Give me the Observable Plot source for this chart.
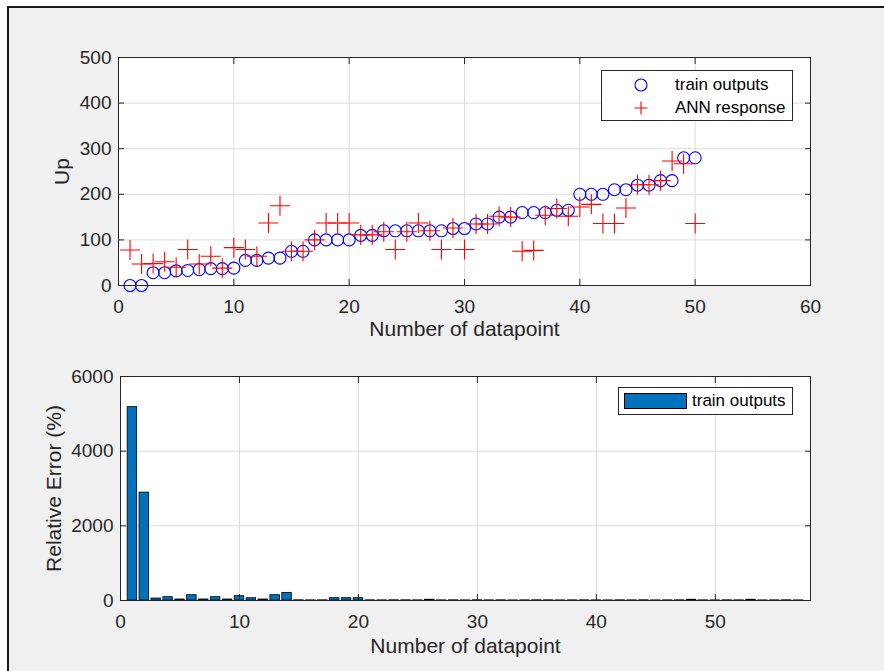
<!DOCTYPE html>
<html>
<head>
<meta charset="utf-8">
<script src="https://cdn.jsdelivr.net/npm/d3@7"></script>
<script src="https://cdn.jsdelivr.net/npm/@observablehq/plot@0.6"></script>
<style>
  html, body { margin: 0; padding: 0; background: #ffffff; width: 884px; height: 671px; overflow: hidden; }
  #fig { position: absolute; left: 7px; top: 6px; width: 900px; height: 700px; background: #f0f0f0; border-left: 2px solid #1a1a1a; border-top: 2px solid #1a1a1a; }
  .legend { position: absolute; background: #fff; border: 1px solid #262626; font-family: "Liberation Sans", Arial, sans-serif; font-size: 17px; color: #000; box-sizing: border-box; }
  .legend .row { position: absolute; display: flex; align-items: center; }
  svg text { font-family: "Liberation Sans", Arial, sans-serif; }
</style>
</head>
<body>
<div id="fig"></div>
<script>
// ---------- data ----------
const indexTop = d3.range(1, 51);
const trainOutputs = [0, 0, 28, 28, 32, 33, 35, 37, 37, 38,
  55, 55, 60, 60, 75, 75, 100, 100, 100, 100,
  110, 110, 120, 120, 120, 120, 120, 120, 125, 125,
  135, 135, 150, 150, 160, 160, 160, 165, 165, 200,
  200, 200, 210, 210, 220, 220, 230, 230, 280, 280];
const annResponse = [78, 47, 48, 52, 40, 79, 47, 64, 38, 83,
  79, 64, 137, 175, 75, 75, 100, 137, 137, 137,
  111, 111, 118, 79, 118, 137, 120, 79, 126, 79,
  135, 135, 152, 150, 75, 77, 154, 169, 152, 172,
  178, 136, 136, 170, 221, 221, 230, 273, 267, 136];

const indexBottom = d3.range(1, 58);
const relativeError = [5180, 2890, 53, 89, 27, 142, 27, 89, 27, 116,
  62, 27, 142, 204, 6, 4, 5, 62, 62, 62,
  5, 4, 6, 5, 4, 20, 4, 5, 3, 6,
  4, 5, 3, 4, 6, 5, 3, 4, 5, 4,
  3, 5, 4, 6, 3, 4, 5, 20, 4, 3,
  5, 4, 20, 3, 4, 5, 3];

const topXTicks = [0, 10, 20, 30, 40, 50, 60];
const topYTicks = [0, 100, 200, 300, 400, 500];
const botXTicks = [0, 10, 20, 30, 40, 50];
const botYTicks = [0, 2000, 4000, 6000];

const topData = indexTop.map((x, i) => ({x, train: trainOutputs[i], ann: annResponse[i]}));
const botData = indexBottom.map((x, i) => ({x, err: relativeError[i]}));

const W = 884;
const axisColor = "#262626";
const gridColor = "#dcdcdc";
const fmt = d => String(d);

function gridMarks(xTicks, yTicks) {
  return [
    Plot.gridX(xTicks, {stroke: gridColor, strokeOpacity: 1}),
    Plot.gridY(yTicks, {stroke: gridColor, strokeOpacity: 1}),
  ];
}
function axisMarks(xTicks, yTicks) {
  return [
    Plot.axisX(xTicks, {anchor: "bottom", tickSize: -6, tickPadding: 20, label: null, tickFormat: fmt, fontSize: 19, fill: axisColor, stroke: axisColor}),
    Plot.axisX(xTicks, {anchor: "top", tickSize: -6, label: null, tickFormat: () => "", stroke: axisColor}),
    Plot.axisY(yTicks, {anchor: "left", tickSize: -6, tickPadding: 13, label: null, tickFormat: fmt, fontSize: 19, fill: axisColor, stroke: axisColor}),
    Plot.axisY(yTicks, {anchor: "right", tickSize: -6, label: null, tickFormat: () => "", stroke: axisColor}),
    Plot.frame({stroke: axisColor, strokeWidth: 1})
  ];
}

// ---------- top chart ----------
const topPlot = Plot.plot({
  width: W, height: 345,
  marginLeft: 118, marginRight: 74, marginTop: 57, marginBottom: 60,
  style: {background: "transparent", overflow: "visible"},
  x: {domain: [0, 60], ticks: topXTicks, label: null},
  y: {domain: [0, 500], ticks: topYTicks, label: null},
  marks: [
    Plot.frame({fill: "#ffffff", stroke: null}),
    ...gridMarks(topXTicks, topYTicks),
    Plot.dot(topData, {x: "x", y: "train", r: 6, stroke: "#0000ff", strokeWidth: 1.1, fill: "none"}),
    Plot.dot(topData, {x: "x", y: "ann", r: 6.5, symbol: "plus", stroke: "#ff0000", strokeWidth: 1.1}),
    ...axisMarks(topXTicks, topYTicks),
    Plot.text(["Number of datapoint"], {frameAnchor: "bottom", dy: 44, fontSize: 21, fill: axisColor, lineAnchor: "middle", textAnchor: "middle"}),
    Plot.text(["Up"], {frameAnchor: "left", dx: -56, rotate: -90, fontSize: 21, fill: axisColor, textAnchor: "middle"})
  ]
});

// ---------- bottom chart ----------
const botPlot = Plot.plot({
  width: W, height: 326,
  marginLeft: 120, marginRight: 74, marginTop: 31, marginBottom: 71,
  style: {background: "transparent", overflow: "visible"},
  x: {domain: [0, 58], ticks: botXTicks, label: null},
  y: {domain: [0, 6000], ticks: botYTicks, label: null},
  marks: [
    Plot.frame({fill: "#ffffff", stroke: null}),
    ...gridMarks(botXTicks, botYTicks),
    Plot.rectY(botData, {x1: d => d.x - 0.4, x2: d => d.x + 0.4, y: "err", fill: "#0072bd", stroke: "#000000", strokeWidth: 0.8}),
    ...axisMarks(botXTicks, botYTicks),
    Plot.text(["Number of datapoint"], {frameAnchor: "bottom", dy: 46, fontSize: 21, fill: axisColor, lineAnchor: "middle", textAnchor: "middle"}),
    Plot.text(["Relative Error (%)"], {frameAnchor: "left", dx: -66, rotate: -90, fontSize: 21, fill: axisColor, textAnchor: "middle"})
  ]
});

const fig = document.getElementById("fig");
const offX = -9, offY = -8;
topPlot.style.position = "absolute"; topPlot.style.left = offX + "px"; topPlot.style.top = offY + "px";
botPlot.style.position = "absolute"; botPlot.style.left = offX + "px"; botPlot.style.top = (345 + offY) + "px";
fig.appendChild(topPlot);
fig.appendChild(botPlot);

// ---------- legends (HTML overlay) ----------
function legend(x, y, w, h) {
  const d = document.createElement("div");
  d.className = "legend";
  d.style.left = (x + offX) + "px"; d.style.top = (y + offY) + "px";
  d.style.width = w + "px"; d.style.height = h + "px";
  fig.appendChild(d);
  return d;
}
const l1 = legend(601, 70, 192, 51);
l1.innerHTML = `
  <svg style="position:absolute;left:30px;top:5px" width="18" height="18"><circle cx="9" cy="9" r="6" fill="none" stroke="#0000ff" stroke-width="1.1"/></svg>
  <div class="row" style="left:73px;top:4px;height:20px">train outputs</div>
  <svg style="position:absolute;left:30px;top:28px" width="18" height="18"><path d="M2.5,9H15.5M9,2.5V15.5" stroke="#ff0000" stroke-width="1.1"/></svg>
  <div class="row" style="left:73px;top:27px;height:20px">ANN response</div>`;
const l2 = legend(618, 387, 175, 28);
l2.innerHTML = `
  <div style="position:absolute;left:5px;top:5px;width:63px;height:16px;background:#0072bd;border:1px solid #000;box-sizing:border-box"></div>
  <div class="row" style="left:73px;top:3px;height:20px">train outputs</div>`;
</script>
</body>
</html>
